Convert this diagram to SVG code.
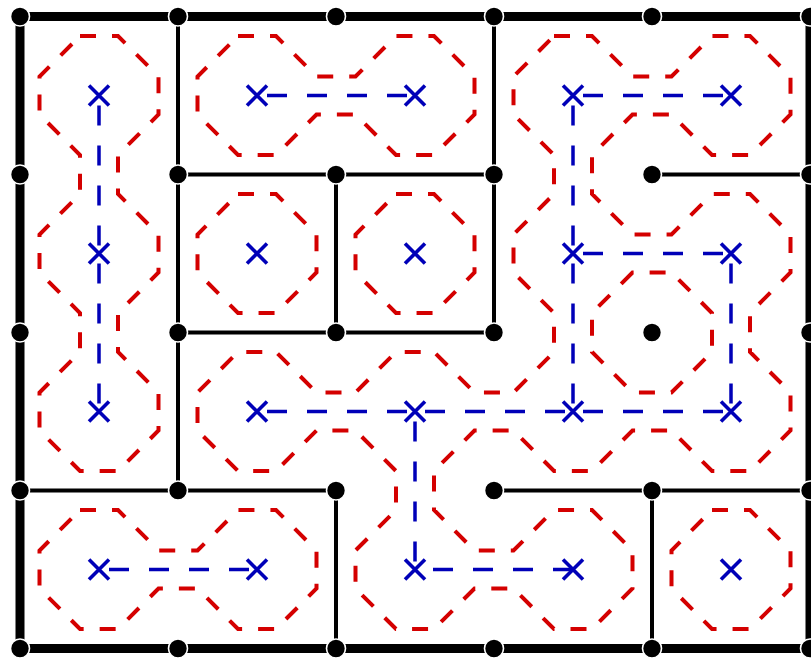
<svg xmlns="http://www.w3.org/2000/svg" width="811" height="659" viewBox="0 0 811 659">
<style>
.wall{fill:none;stroke:#000;stroke-width:4}
.border{fill:none;stroke:#000;stroke-width:9}
.dot{fill:#000;stroke:#fff;stroke-width:1.6}
.region{fill:none;stroke:#d40000;stroke-width:4;stroke-dasharray:16 16;stroke-linejoin:miter}
.link{fill:none;stroke:#0000b8;stroke-width:3.5;stroke-dasharray:20 20;stroke-dashoffset:30}
.mark{fill:none;stroke:#0000b8;stroke-width:3.6}
</style>
<defs>
<path id="x" class="mark" d="M-10,-10L10,10M10,-10L-10,10"/>
<circle id="d" class="dot" r="9.5"/>
</defs>
<rect width="811" height="659" fill="#fff"/>
<g id="walls">
<path class="border" d="M20,16.5H810V648.5H20Z"/>
<path class="wall" d="M178,16.5V490.5M178,174.5H494M336,174.5V332.5M178,332.5H494M494,16.5V332.5M652,174.5H810M20,490.5H336M336,490.5V648.5M494,490.5H810M652,490.5V648.5"/>
</g>
<g id="dots">
<use href="#d" x="20" y="16.5"/><use href="#d" x="178" y="16.5"/><use href="#d" x="336" y="16.5"/><use href="#d" x="494" y="16.5"/><use href="#d" x="652" y="16.5"/><use href="#d" x="810" y="16.5"/>
<use href="#d" x="20" y="174.5"/><use href="#d" x="178" y="174.5"/><use href="#d" x="336" y="174.5"/><use href="#d" x="494" y="174.5"/><use href="#d" x="652" y="174.5"/><use href="#d" x="810" y="174.5"/>
<use href="#d" x="20" y="332.5"/><use href="#d" x="178" y="332.5"/><use href="#d" x="336" y="332.5"/><use href="#d" x="494" y="332.5"/><use href="#d" x="652" y="332.5"/><use href="#d" x="810" y="332.5"/>
<use href="#d" x="20" y="490.5"/><use href="#d" x="178" y="490.5"/><use href="#d" x="336" y="490.5"/><use href="#d" x="494" y="490.5"/><use href="#d" x="652" y="490.5"/><use href="#d" x="810" y="490.5"/>
<use href="#d" x="20" y="648.5"/><use href="#d" x="178" y="648.5"/><use href="#d" x="336" y="648.5"/><use href="#d" x="494" y="648.5"/><use href="#d" x="652" y="648.5"/><use href="#d" x="810" y="648.5"/>
</g>
<g id="region-a">
<path class="region" d="M80,36L118,36L158.5,76.5L158.5,114.5L118,155L118,194L158.5,234.5L158.5,272.5L118,313L118,352L158.5,392.5L158.5,430.5L118,471L80,471L39.5,430.5L39.5,392.5L80,352L80,313L39.5,272.5L39.5,234.5L80,194L80,155L39.5,114.5L39.5,76.5Z"/>
<use href="#x" x="99" y="95.5"/><use href="#x" x="99" y="253.5"/><use href="#x" x="99" y="411.5"/>
</g>
<g id="region-b">
<path class="region" d="M238,36L276,36L316.5,76.5L355.5,76.5L396,36L434,36L474.5,76.5L474.5,114.5L434,155L396,155L355.5,114.5L316.5,114.5L276,155L238,155L197.5,114.5L197.5,76.5Z"/>
<use href="#x" x="257" y="95.5"/><use href="#x" x="415" y="95.5"/>
</g>
<g id="region-c">
<path class="region" d="M238,194L276,194L316.5,234.5L316.5,272.5L276,313L238,313L197.5,272.5L197.5,234.5Z"/>
<use href="#x" x="257" y="253.5"/>
</g>
<g id="region-d">
<path class="region" d="M396,194L434,194L474.5,234.5L474.5,272.5L434,313L396,313L355.5,272.5L355.5,234.5Z"/>
<use href="#x" x="415" y="253.5"/>
</g>
<g id="region-e">
<path class="region" d="M554,36L592,36L632.5,76.5L671.5,76.5L712,36L750,36L790.5,76.5L790.5,114.5L750,155L712,155L671.5,114.5L632.5,114.5L592,155L592,194L632.5,234.5L671.5,234.5L712,194L750,194L790.5,234.5L790.5,272.5L750,313L750,352L790.5,392.5L790.5,430.5L750,471L712,471L671.5,430.5L632.5,430.5L592,471L554,471L513.5,430.5L474.5,430.5L434,471L434,510L474.5,550.5L513.5,550.5L554,510L592,510L632.5,550.5L632.5,588.5L592,629L554,629L513.5,588.5L474.5,588.5L434,629L396,629L355.5,588.5L355.5,550.5L396,510L396,471L355.5,430.5L316.5,430.5L276,471L238,471L197.5,430.5L197.5,392.5L238,352L276,352L316.5,392.5L355.5,392.5L396,352L434,352L474.5,392.5L513.5,392.5L554,352L554,313L513.5,272.5L513.5,234.5L554,194L554,155L513.5,114.5L513.5,76.5Z"/>
<path class="region" d="M632.5,272.5L592,313L592,352L632.5,392.5L671.5,392.5L712,352L712,313L671.5,272.5Z"/>
<use href="#x" x="573" y="95.5"/><use href="#x" x="731" y="95.5"/><use href="#x" x="573" y="253.5"/><use href="#x" x="731" y="253.5"/><use href="#x" x="573" y="411.5"/><use href="#x" x="731" y="411.5"/><use href="#x" x="257" y="411.5"/><use href="#x" x="415" y="411.5"/><use href="#x" x="415" y="569.5"/><use href="#x" x="573" y="569.5"/>
</g>
<g id="region-f">
<path class="region" d="M80,510L118,510L158.5,550.5L197.5,550.5L238,510L276,510L316.5,550.5L316.5,588.5L276,629L238,629L197.5,588.5L158.5,588.5L118,629L80,629L39.5,588.5L39.5,550.5Z"/>
<use href="#x" x="99" y="569.5"/><use href="#x" x="257" y="569.5"/>
</g>
<g id="region-g">
<path class="region" d="M712,510L750,510L790.5,550.5L790.5,588.5L750,629L712,629L671.5,588.5L671.5,550.5Z"/>
<use href="#x" x="731" y="569.5"/>
</g>
<g id="connectors">
<path class="link" d="M99,95.5V253.5"/>
<path class="link" d="M99,253.5V411.5"/>
<path class="link" d="M257,95.5H415"/>
<path class="link" d="M573,95.5H731"/>
<path class="link" d="M573,95.5V253.5"/>
<path class="link" d="M573,253.5H731"/>
<path class="link" d="M573,253.5V411.5"/>
<path class="link" d="M731,253.5V411.5"/>
<path class="link" d="M573,411.5H731"/>
<path class="link" d="M415,411.5H573"/>
<path class="link" d="M257,411.5H415"/>
<path class="link" d="M415,411.5V569.5"/>
<path class="link" d="M573,569.5H415" style="stroke-dashoffset:0"/>
<path class="link" d="M99,569.5H257"/>
</g>
</svg>
